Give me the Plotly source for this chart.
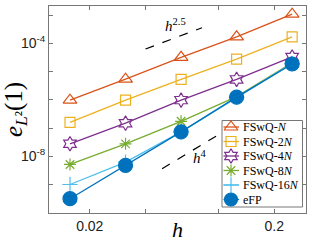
import numpy as np
import plotly.graph_objects as go

h = [1/64, 1/32, 1/16, 1/8, 1/4]
names = ["FSwQ-<i>N</i>", "FSwQ-2<i>N</i>", "FSwQ-4<i>N</i>", "FSwQ-8<i>N</i>", "FSwQ-16<i>N</i>", "eFP"]
err_N = [9.8e-7, 5.4e-6, 3.2e-5, 1.7e-4, 1.07e-3]
err_2N = [1.6e-7, 9.8e-7, 5.3e-6, 2.75e-5, 1.7e-4]
err_4N = [2.8e-8, 1.5e-7, 9.8e-7, 5.3e-6, 3.3e-5]
err_8N = [5.2e-9, 2.8e-8, 1.75e-7, 1.3e-6, 2.05e-5]
err_16N = [1.02e-9, 6.3e-9, 7.4e-8, 1.23e-6, 1.95e-5]
err_eFP = [3.2e-10, 4.8e-9, 7.4e-8, 1.25e-6, 1.86e-5]
ref25_x = [0.0401, 0.0812]
ref25_y = [6.3e-5, 3.57e-4]
ref4_x = [0.0493, 0.102]
ref4_y = [3.69e-9, 6.4e-8]

series = [err_N, err_2N, err_4N, err_8N, err_16N, err_eFP]
colors = ["#D95319", "#EDB120", "#7E2F8E", "#77AC30", "#4DBEEE", "#0072BD"]
symbols = ["triangle-up-open", "square-open", "hexagram-open", "asterisk-open", "cross-thin-open", "circle"]
sizes = [12, 10, 11, 10, 11, 14]

W, H = 323, 242
ML, MR, MT, MB = 49, 17, 6, 29
PW, PH = W - ML - MR, H - MT - MB


def fx(px):
    return (px - ML) / PW


def fy(py):
    return (H - MB - py) / PH


fig = go.Figure()
for ys, nm, c, s, sz in zip(series, names, colors, symbols, sizes):
    fig.add_trace(go.Scatter(x=h, y=ys, name=nm, mode="lines+markers", showlegend=False,
                             line=dict(color=c, width=1.3),
                             marker=dict(symbol=s, size=sz, color=c,
                                         line=dict(color=c, width=1.2))))
for rx, ry in [(ref25_x, ref25_y), (ref4_x, ref4_y)]:
    fig.add_trace(go.Scatter(x=rx, y=ry, mode="lines", showlegend=False,
                             line=dict(color="black", width=1.2, dash="dash")))

fig.add_annotation(x=np.log10(0.0582), y=-3.35, text="<i>h</i><sup>2.5</sup>",
                   showarrow=False, font=dict(family="Liberation Serif", size=15, color="black"))
fig.add_annotation(x=np.log10(0.0794), y=-8.03, text="<i>h</i><sup>4</sup>",
                   showarrow=False, font=dict(family="Liberation Serif", size=15, color="black"))

# custom legend (compact, MATLAB style)
fig.add_shape(type="rect", xref="paper", yref="paper", layer="below",
              x0=fx(222), x1=fx(302.5), y0=fy(207), y1=fy(120.5),
              line=dict(color="#777", width=1), fillcolor="white")
leg_y0, leg_dy = 127, 14.5
for i, (nm, c, s, sz) in enumerate(zip(names, colors, symbols, sizes)):
    py = leg_y0 + i * leg_dy
    fig.add_trace(go.Scatter(x=[fx(223.5), fx(239)], y=[fy(py), fy(py)], mode="lines",
                             xaxis="x2", yaxis="y2", showlegend=False, hoverinfo="skip",
                             line=dict(color=c, width=1.3)))
    fig.add_trace(go.Scatter(x=[fx(231)], y=[fy(py)], mode="markers",
                             xaxis="x2", yaxis="y2", showlegend=False, hoverinfo="skip",
                             marker=dict(symbol=s, size=sz - 1 if i == 5 else sz, color=c,
                                         line=dict(color=c, width=1.2))))
    fig.add_annotation(xref="paper", yref="paper", x=fx(241), y=fy(py), text=nm,
                       xanchor="left", yanchor="middle", showarrow=False,
                       font=dict(family="Liberation Serif", size=12, color="black"))

ytv = [10.0**k for k in range(-10, -2)]
ytt = ["10<sup>-8</sup>" if k == -8 else ("10<sup>-4</sup>" if k == -4 else "") for k in range(-10, -2)]

fig.update_layout(
    width=W, height=H,
    margin=dict(l=ML, r=MR, t=MT, b=MB),
    paper_bgcolor="white", plot_bgcolor="white",
    showlegend=False, hovermode=False,
    xaxis=dict(type="log", range=[-1.92, -0.527], automargin=False,
               tickvals=[0.02, 0.04, 0.1, 0.2], ticktext=["0.02", "", "", "0.2"],
               ticks="inside", ticklen=4, tickcolor="#777", mirror="ticks",
               showline=True, linecolor="#777", linewidth=1, showgrid=False, zeroline=False,
               tickfont=dict(family="Liberation Sans", size=14, color="#222"),
               title=dict(text="<i>h</i>", font=dict(family="Liberation Serif", size=22, color="black"),
                          standoff=0)),
    yaxis=dict(type="log", range=[-10, -2.68], automargin=False,
               tickvals=ytv, ticktext=ytt,
               ticks="inside", ticklen=4, tickcolor="#777", mirror="ticks",
               showline=True, linecolor="#777", linewidth=1, showgrid=False, zeroline=False,
               tickfont=dict(family="Liberation Sans", size=14, color="#222"),
               title=dict(text="<i>e</i><sub><i>L</i>²</sub>(1)",
                          font=dict(family="Liberation Serif", size=25, color="black"),
                          standoff=0)),
    xaxis2=dict(overlaying="x", range=[0, 1], visible=False, fixedrange=True),
    yaxis2=dict(overlaying="y", range=[0, 1], visible=False, fixedrange=True),
)
fig.write_html("out.html", config={"displayModeBar": False, "staticPlot": True})

# remove the browser's default page margin so the figure fills the window
with open("out.html", "r", encoding="utf-8") as f:
    page = f.read()
page = page.replace("<head>", "<head><style>html,body{margin:0;padding:0;overflow:hidden;}</style>", 1)
with open("out.html", "w", encoding="utf-8") as f:
    f.write(page)
